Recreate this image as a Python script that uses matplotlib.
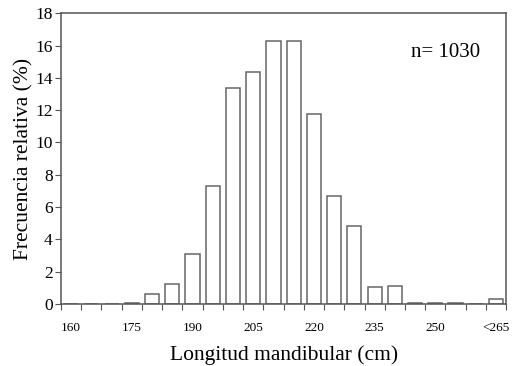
import matplotlib
matplotlib.use("Agg")
import matplotlib.pyplot as plt
import numpy as np

bins = [160, 165, 170, 175, 180, 185, 190, 195, 200, 205, 210, 215,
        220, 225, 230, 235, 240, 245, 250, 255, 260, 265]
freq = [0, 0, 0, 0.08, 0.62, 1.26, 3.12, 7.3, 13.4, 14.37, 16.25, 16.25,
        11.77, 6.7, 4.85, 1.03, 1.15, 0.06, 0.06, 0.06, 0, 0.31]
label_vals = [160, 175, 190, 205, 220, 235, 250, 265]
label_text = ["160", "175", "190", "205", "220", "235", "250", "<265"]

plt.rcParams['font.family'] = ['Liberation Serif', 'DejaVu Serif']

fig = plt.figure(figsize=(5.17, 3.66), dpi=100)
ax = fig.add_axes([0.118, 0.169, 0.861, 0.795])

edge = "#555555"
ax.bar(bins, freq, width=3.5, color="white", edgecolor="#666666", linewidth=1.1)

ax.set_xlim(157.5, 267.5)
ax.set_ylim(0, 18)
ax.set_yticks(np.arange(0, 19, 2))
ax.tick_params(axis='y', labelsize=12.5, direction='out', length=4, color=edge, pad=2)

edges = np.arange(157.5, 268, 5)
ax.set_xticks(edges)
ax.set_xticklabels([""] * len(edges))
ax.tick_params(axis='x', which='major', direction='out', length=4, color=edge)
ax.set_xticks(label_vals, minor=True)
ax.set_xticklabels(label_text, minor=True)
ax.tick_params(axis='x', which='minor', length=0, labelsize=9.5, pad=13)

for s in ax.spines.values():
    s.set_color(edge)
    s.set_linewidth(1.1)

ax.set_xlabel("Longitud mandibular (cm)", fontsize=15.5, labelpad=8)
ax.set_ylabel("Frecuencia relativa (%)", fontsize=15.5, labelpad=1)
ax.text(0.942, 0.865, "n= 1030", transform=ax.transAxes, fontsize=15,
        ha="right", va="center")

fig.savefig("out.png", dpi=100)
